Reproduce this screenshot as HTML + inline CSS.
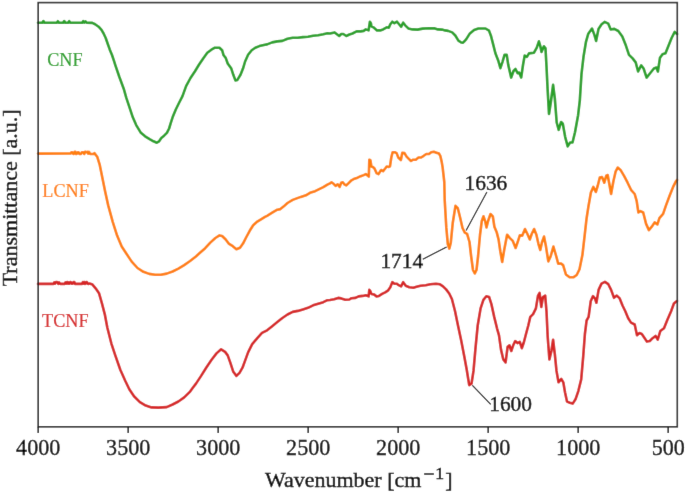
<!DOCTYPE html>
<html><head><meta charset="utf-8"><style>
html,body{margin:0;padding:0;background:#fff;}
body{width:685px;height:493px;overflow:hidden;}
svg{display:block;font-family:"Liberation Serif",serif;}
</style></head><body>
<svg width="685" height="493" viewBox="0 0 685 493">
<defs><filter id="b" x="0" y="0" width="685" height="493" filterUnits="userSpaceOnUse"><feConvolveMatrix order="3" kernelMatrix="0.0072 0.0847 0.0072 0.0847 1.0000 0.0847 0.0072 0.0847 0.0072" edgeMode="duplicate"/></filter></defs>
<g filter="url(#b)"><rect width="685" height="493" fill="#fff"/>
<g fill="none" stroke-width="2.6" stroke-linejoin="round" stroke-linecap="round">
<polyline stroke="#2ca02c" points="38.0,22.8 42.3,22.8 43.4,21.0 44.5,22.8 56.8,22.8 57.9,21.2 59.0,22.8 63.1,22.8 64.2,21.0 65.3,22.8 68.1,22.8 69.2,21.1 70.3,22.8 82.2,22.8 83.2,21.2 84.4,22.6 85.5,21.4 86.6,22.8 92.3,22.9 95.1,24.2 98.6,26.7 101.5,29.9 103.6,33.5 105.7,38.0 107.7,43.7 109.7,49.4 112.0,55.0 113.9,60.7 115.4,65.3 119.2,76.5 123.7,88.7 126.4,98.2 129.5,107.3 132.8,117.3 136.2,125.1 140.6,132.4 145.1,136.3 149.6,139.1 153.5,141.3 156.8,142.7 159.1,141.3 161.3,138.0 164.1,135.7 166.9,132.9 169.1,128.5 170.8,122.9 173.0,116.2 175.8,109.5 179.1,102.8 182.5,96.1 186.1,86.1 190.5,78.0 195.0,71.2 199.1,64.5 203.2,58.4 207.3,52.8 211.4,49.7 214.9,47.7 219.5,47.7 222.1,50.2 223.6,55.3 225.7,57.9 227.7,63.5 231.3,68.6 233.3,74.8 235.4,80.4 237.4,79.9 240.5,74.8 243.0,68.6 245.1,61.5 248.1,54.8 251.7,50.2 255.3,47.7 259.4,46.1 265.0,44.7 267.1,44.4 272.2,42.4 277.3,41.4 282.4,40.9 287.5,38.8 292.7,37.8 297.8,37.8 302.9,37.1 308.0,36.8 313.1,35.8 318.2,35.3 323.3,34.2 327.4,33.2 330.0,33.5 334.6,32.4 336.6,34.0 339.2,36.0 341.2,34.0 343.3,34.0 346.3,36.0 349.4,34.5 352.5,33.5 356.6,31.4 360.7,31.4 363.7,30.9 365.8,29.4 368.6,30.4 369.9,21.7 370.9,23.2 371.4,26.3 373.4,27.3 377.0,30.4 380.1,30.4 383.1,29.4 386.7,27.3 388.8,27.8 390.3,24.3 392.3,21.7 394.4,23.2 397.0,21.7 399.1,24.3 401.1,26.8 403.2,22.7 405.2,25.3 408.3,28.4 412.4,29.4 417.5,29.6 422.6,28.6 428.7,28.2 434.9,28.4 437.9,29.4 442.0,29.6 445.1,30.4 448.1,30.9 452.2,32.4 455.3,35.5 458.4,40.6 461.2,42.5 462.8,42.7 464.5,41.3 466.3,39.1 469.9,33.4 474.1,29.9 478.4,28.5 485.5,28.5 489.0,30.6 491.1,36.3 493.3,44.8 495.4,53.3 498.2,60.4 500.4,68.2 502.5,61.8 504.6,54.7 506.7,54.7 508.2,64.6 511.2,77.6 513.5,71.0 515.5,69.0 517.6,73.2 519.1,72.5 521.2,77.5 523.0,65.0 524.7,55.5 526.9,56.9 529.0,53.4 534.0,52.7 536.8,47.7 538.9,41.3 540.3,46.0 541.5,51.9 543.9,46.3 545.5,48.4 546.5,66.5 547.7,90.9 549.0,114.0 550.7,103.0 553.1,84.8 554.8,98.2 556.7,122.5 558.7,129.8 561.1,122.0 562.8,123.7 565.2,137.1 567.7,146.4 570.1,142.5 572.5,142.5 575.0,132.2 578.1,115.2 579.8,100.6 581.5,73.8 583.5,56.8 585.9,42.2 588.3,33.7 592.0,28.5 594.4,34.9 596.1,41.0 598.5,28.9 601.6,24.3 604.6,21.9 608.3,23.7 610.7,29.5 614.3,28.9 618.3,31.0 622.3,36.5 625.9,45.6 629.0,54.8 632.6,58.4 635.7,62.4 638.1,71.5 641.2,65.4 643.6,68.5 646.6,77.6 650.3,73.0 653.9,68.5 656.4,67.5 657.9,71.5 660.0,57.8 662.5,54.2 665.5,53.2 668.6,45.6 671.6,38.0 674.7,31.9 677.0,34.0"/>
<polyline stroke="#ff7f0e" points="38.0,153.6 70.6,153.4 71.4,152.3 72.2,152.3 73.0,153.6 73.8,154.0 74.6,151.9 75.4,151.9 76.2,154.0 77.0,153.6 77.8,152.3 78.6,152.3 79.4,154.0 80.2,154.0 81.0,154.0 81.8,152.3 82.6,152.3 83.4,152.3 84.2,154.0 85.0,151.9 85.8,151.9 86.6,152.3 87.4,151.9 88.2,153.6 89.0,151.9 89.8,153.6 90.6,154.0 91.4,154.0 92.2,154.0 93.0,154.0 93.8,154.0 94.4,153.1 97.2,156.7 99.6,164.3 102.1,176.5 105.2,191.7 108.2,205.4 112.8,222.1 117.2,235.8 121.7,246.5 125.8,252.8 131.7,261.6 137.5,268.0 143.4,271.8 149.2,273.9 155.0,274.7 160.9,274.7 166.7,273.6 172.6,271.5 178.4,268.6 184.2,265.1 190.1,261.0 195.9,256.4 200.0,252.8 205.2,248.2 210.3,242.6 215.4,238.0 219.5,235.4 222.1,236.0 225.7,239.5 228.7,243.6 232.8,246.2 236.4,249.3 240.0,247.7 243.0,243.6 246.1,237.5 249.7,230.8 253.2,225.2 257.3,221.6 261.4,219.1 265.0,216.8 267.1,215.8 272.2,212.7 277.3,209.7 280.4,209.1 283.5,206.6 287.5,203.0 292.7,199.9 296.7,198.4 300.8,196.9 305.9,195.3 310.0,192.8 315.1,191.2 319.2,189.2 323.3,187.2 327.4,184.6 330.0,183.3 331.5,182.3 333.6,183.8 335.6,185.9 337.7,184.3 339.7,186.9 341.2,182.8 342.8,182.3 344.3,184.3 346.3,185.4 348.4,183.3 351.5,180.3 354.5,178.7 357.6,177.7 360.7,176.2 363.7,175.1 365.8,174.1 367.8,175.7 368.8,176.7 369.3,159.8 370.4,160.3 371.4,166.5 372.9,167.0 374.5,168.5 376.5,173.1 378.5,174.1 381.1,170.0 383.1,171.1 385.2,168.5 386.7,166.5 388.8,167.0 390.0,166.3 391.3,157.5 392.6,152.3 394.8,152.3 396.6,153.1 398.3,157.5 400.9,160.1 402.3,152.7 404.5,153.1 406.6,156.6 408.8,158.8 411.0,161.0 413.2,159.7 415.8,159.7 418.5,157.5 421.1,157.5 423.7,155.8 426.3,154.0 429.0,154.0 431.2,152.3 433.8,151.8 436.4,152.7 439.0,153.6 440.4,156.2 441.7,161.9 442.6,167.1 443.4,174.1 444.3,182.0 444.7,200.0 446.3,227.4 447.8,244.1 449.3,248.6 450.8,242.6 452.7,223.3 455.5,205.8 457.8,208.2 460.1,217.5 462.5,228.0 464.8,232.6 467.1,233.8 469.5,242.0 471.1,256.0 473.0,270.0 474.8,273.5 476.5,270.0 478.1,256.0 480.0,235.0 481.8,221.0 483.5,216.3 485.1,221.0 486.5,227.5 488.1,221.0 490.5,214.0 492.8,216.3 494.4,226.8 496.8,232.6 498.6,239.6 500.3,251.3 502.2,262.0 504.3,249.4 507.1,234.7 509.9,238.1 512.8,240.9 515.6,248.0 517.6,242.3 519.9,235.2 522.2,235.8 525.0,229.0 527.3,233.8 529.8,239.5 531.8,233.8 534.1,229.0 536.4,234.7 538.4,243.8 540.3,250.0 542.0,242.3 544.0,236.6 546.0,246.6 548.3,261.4 550.6,256.5 553.4,246.6 556.3,256.5 558.2,263.6 561.1,263.6 563.1,265.1 565.9,274.4 569.6,277.3 573.3,277.3 576.7,275.0 579.5,269.3 582.4,255.1 584.7,235.2 586.6,218.2 588.6,205.4 590.9,192.6 593.3,186.9 595.8,192.0 597.8,185.5 599.8,177.6 602.0,177.0 604.3,182.7 606.3,175.6 607.7,175.0 609.1,182.7 611.1,194.0 613.4,181.3 615.7,171.3 617.7,167.6 620.5,169.9 624.2,176.1 627.6,182.7 631.0,189.8 634.7,194.0 636.7,201.1 638.4,212.5 640.4,211.1 643.2,212.5 646.1,223.9 648.9,230.1 651.8,226.7 654.6,222.4 657.4,224.4 659.4,218.2 663.1,213.9 666.0,205.4 669.7,195.5 673.1,186.9 675.9,181.3 677.0,180.0"/>
<polyline stroke="#d62728" points="38.0,283.9 53.5,283.9 54.3,282.4 55.1,283.7 55.9,282.0 56.7,282.0 57.5,282.4 58.3,283.9 59.1,282.4 59.9,283.7 60.7,283.9 61.5,283.7 62.3,283.9 63.1,283.9 63.9,283.7 64.7,283.9 65.5,282.4 66.3,283.7 67.1,282.0 67.9,283.7 68.7,282.4 69.5,283.7 70.3,282.0 71.1,282.4 71.9,283.7 72.7,283.7 73.5,282.0 74.3,282.0 75.0,283.9 80.5,283.9 81.3,283.9 82.1,283.9 82.9,282.0 83.7,283.7 84.5,282.0 85.3,283.9 86.1,282.4 86.9,282.0 87.7,283.7 88.5,283.9 89.5,283.6 92.5,284.6 95.8,288.6 99.0,293.2 102.0,303.7 104.8,314.3 107.3,327.5 111.3,343.3 115.2,355.2 120.3,369.7 125.1,380.5 129.3,389.3 134.0,396.3 139.9,402.1 145.7,405.6 151.5,407.4 158.5,407.6 166.7,407.1 172.6,404.5 178.4,401.5 184.2,397.4 190.1,391.6 193.0,387.5 196.0,383.6 201.1,375.9 206.2,367.7 211.4,360.0 216.5,353.4 221.1,349.3 225.1,351.9 227.7,355.4 230.3,362.6 233.3,371.8 236.4,375.9 239.5,372.8 242.5,367.7 245.1,360.6 248.1,352.4 252.2,344.2 257.3,338.1 262.0,332.9 267.1,330.3 272.2,326.2 277.3,322.1 282.4,318.0 287.5,314.5 292.7,311.9 297.8,310.9 302.9,309.4 308.0,307.8 313.1,305.3 318.2,303.7 323.3,302.2 327.4,300.2 330.0,300.0 334.1,299.3 338.2,297.9 341.2,298.4 345.3,299.7 349.4,299.5 351.5,298.2 355.5,297.9 358.6,296.4 362.7,295.9 365.8,295.2 368.6,296.4 369.3,289.8 370.4,291.3 371.4,293.9 373.9,294.4 376.5,296.4 379.0,295.9 382.1,293.9 385.2,292.3 388.2,290.3 390.3,287.2 392.3,282.1 394.4,283.7 396.9,283.7 398.1,284.8 401.1,286.3 403.2,282.2 405.7,285.8 409.3,287.3 413.4,287.8 416.5,286.8 420.5,285.8 425.7,285.3 430.3,284.3 435.9,283.7 440.0,284.3 443.0,286.3 446.1,289.4 449.2,293.5 451.9,299.0 455.0,311.0 458.1,326.0 461.2,340.5 464.2,356.0 466.7,369.5 469.2,385.1 471.5,383.7 473.5,370.9 475.5,348.2 477.7,325.5 480.6,308.4 483.4,299.9 486.3,296.2 489.1,297.0 491.4,304.1 494.2,316.9 497.0,328.3 499.0,335.4 501.0,349.6 503.3,359.5 505.6,362.4 507.6,346.8 509.5,345.3 511.3,351.0 513.2,345.3 515.2,341.1 517.5,343.1 519.8,341.9 521.8,348.2 523.8,342.5 526.0,334.0 528.3,325.5 530.3,316.9 533.1,314.1 535.9,308.4 538.0,295.6 539.6,292.8 541.3,307.0 542.9,297.0 545.2,295.6 546.5,311.3 547.7,336.8 549.4,359.5 551.4,351.0 553.1,339.7 554.8,353.9 556.5,370.9 558.5,382.3 561.3,378.9 563.3,382.3 565.0,392.2 567.0,401.6 569.8,402.7 572.7,403.6 575.5,399.3 578.4,390.8 581.2,379.4 583.2,356.7 584.9,334.0 586.6,320.5 588.6,316.9 590.7,301.3 593.0,296.1 594.9,298.4 596.4,302.7 598.6,289.9 601.5,283.6 604.9,281.9 608.3,284.2 611.1,289.9 614.0,297.8 616.8,295.6 619.7,298.4 622.5,305.5 625.3,311.2 628.2,318.3 631.0,322.6 634.7,324.5 637.0,335.3 639.5,333.1 641.8,333.9 644.7,338.2 646.9,341.6 649.8,341.0 652.6,338.2 655.5,335.9 657.7,339.6 660.3,331.1 664.0,328.2 667.4,319.7 671.1,311.2 673.9,303.5 675.9,301.8 677.0,301.0"/>
</g>
<rect x="38.2" y="2.6" width="639.1" height="424.2" fill="none" stroke="#202020" stroke-width="1.6"/>
<g stroke="#202020" stroke-width="1.6">
<line x1="38.20" y1="426.8" x2="38.20" y2="433" />
<line x1="128.20" y1="426.8" x2="128.20" y2="433" />
<line x1="218.20" y1="426.8" x2="218.20" y2="433" />
<line x1="308.20" y1="426.8" x2="308.20" y2="433" />
<line x1="398.20" y1="426.8" x2="398.20" y2="433" />
<line x1="488.20" y1="426.8" x2="488.20" y2="433" />
<line x1="578.20" y1="426.8" x2="578.20" y2="433" />
<line x1="668.20" y1="426.8" x2="668.20" y2="433" />
</g>
<g font-size="22.1" fill="#000" stroke="#000" stroke-width="0.3">
<text x="38.20" y="455.1" text-anchor="middle">4000</text>
<text x="128.20" y="455.1" text-anchor="middle">3500</text>
<text x="218.20" y="455.1" text-anchor="middle">3000</text>
<text x="308.20" y="455.1" text-anchor="middle">2500</text>
<text x="398.20" y="455.1" text-anchor="middle">2000</text>
<text x="488.20" y="455.1" text-anchor="middle">1500</text>
<text x="578.20" y="455.1" text-anchor="middle">1000</text>
<text x="668.20" y="455.1" text-anchor="middle">500</text>
</g>
<text x="264.9" y="486.5" font-size="22" fill="#000" stroke="#000" stroke-width="0.4">Wavenumber [cm</text>
<rect x="424.1" y="473.3" width="9.8" height="1.4" fill="#000"/>
<text x="435.2" y="478.6" font-size="17.7" fill="#000" stroke="#000" stroke-width="0.5">1</text>
<text x="445.3" y="486.5" font-size="22" fill="#000" stroke="#000" stroke-width="0.4">]</text>
<text transform="translate(17.4,286.3) rotate(-90)" font-size="22" fill="#000" stroke="#000" stroke-width="0.4">Transmittance [a.u.]</text>
<g font-size="18.2">
<text x="47.2" y="66.2" fill="#2ca02c" stroke="#2ca02c" stroke-width="0.2">CNF</text>
<text x="42.3" y="196.8" fill="#ff7f0e" stroke="#ff7f0e" stroke-width="0.2">LCNF</text>
<text x="42.1" y="327.1" fill="#d62728" stroke="#d62728" stroke-width="0.2">TCNF</text>
</g>
<g font-size="21.4" fill="#000" stroke="#000" stroke-width="0.4">
<text x="380.4" y="268.4">1714</text>
<text x="464.5" y="190.4">1636</text>
<text x="489.2" y="411.3">1600</text>
</g>
<g stroke="#000" stroke-width="1.1">
<line x1="422.8" y1="259.2" x2="446.6" y2="247"/>
<line x1="486.9" y1="192.1" x2="466.1" y2="230.5"/>
<line x1="472.4" y1="385.4" x2="490.7" y2="404.3"/>
</g>
</g>
</svg>
</body></html>
